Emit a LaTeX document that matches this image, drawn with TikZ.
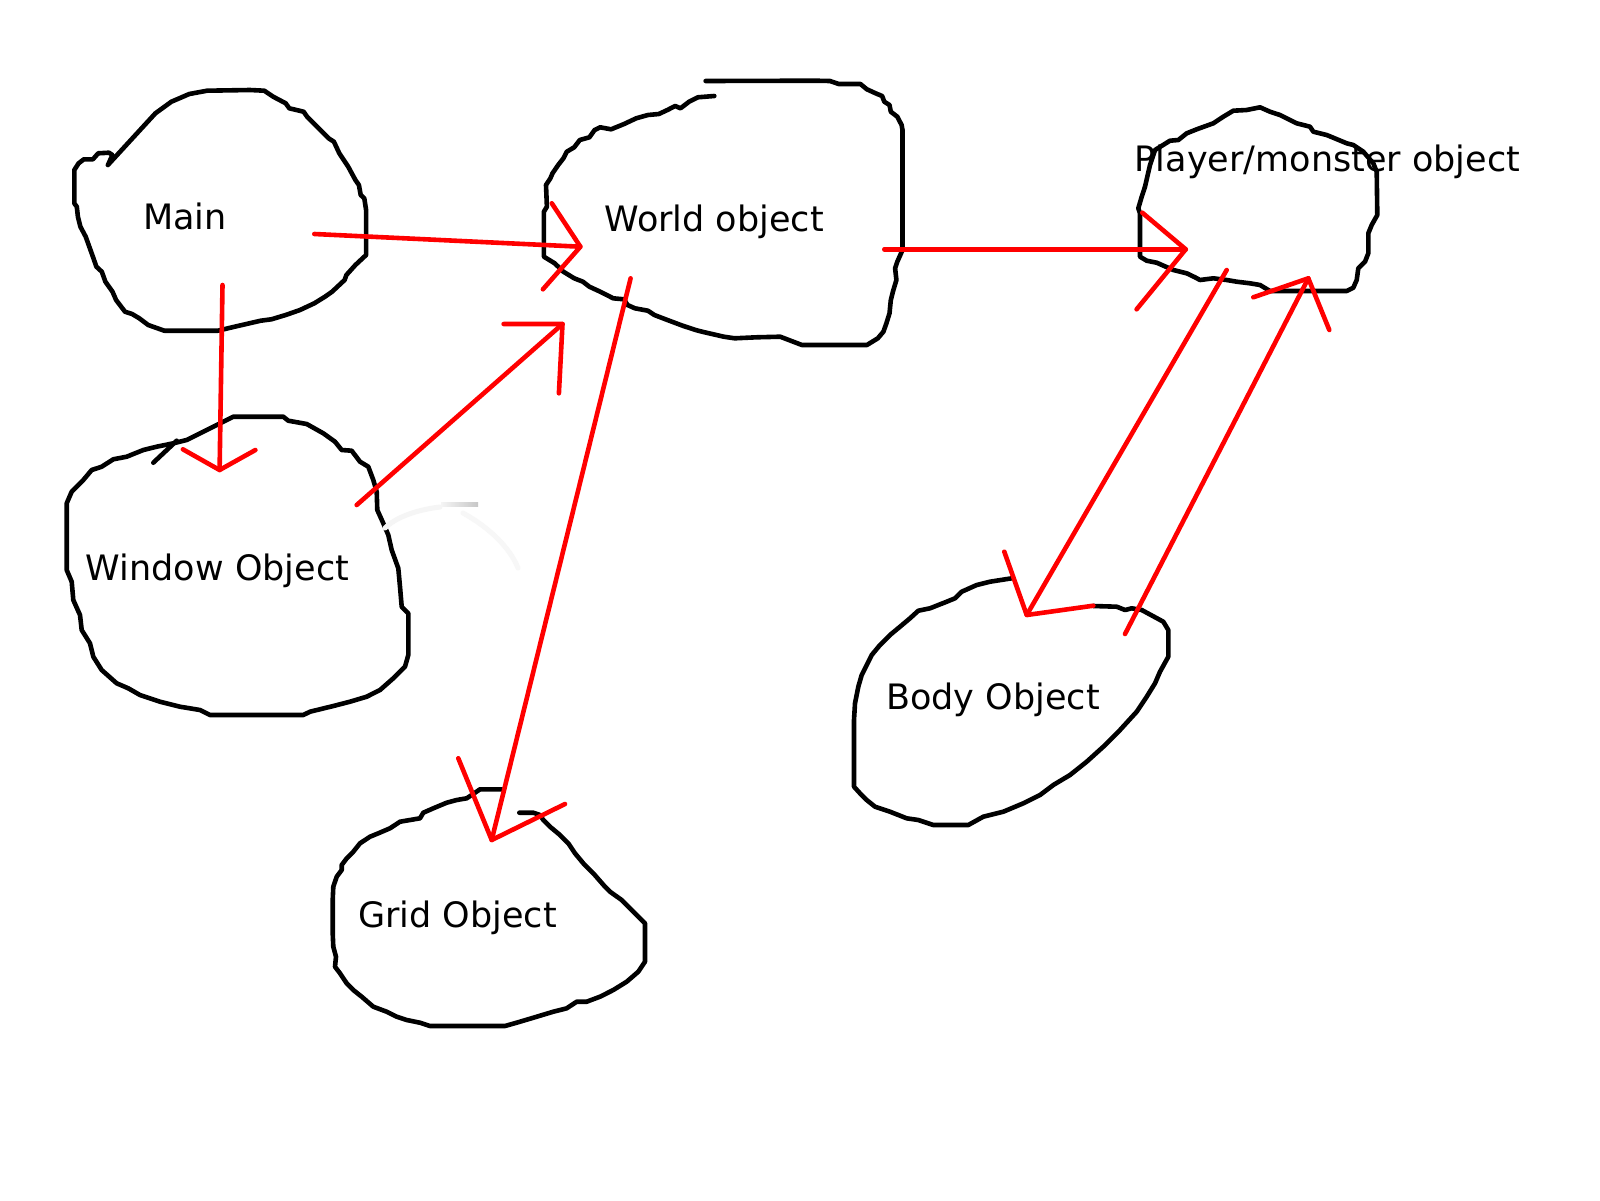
\documentclass[tikz,border=0pt]{standalone}
\usepackage{fontspec}
\setmainfont{DejaVu Sans}
\begin{document}
\begin{tikzpicture}[x=1pt,y=-1pt,
  blob/.style={draw=black,line width=4.6pt,line join=round,line cap=round},
  conn/.style={draw=red,line width=4.6pt,line join=round,line cap=round},
  lbl/.style={font=\fontsize{35}{40}\selectfont,inner sep=0pt,anchor=base,text=black}]
\useasboundingbox (0,0) rectangle (1600,1200);
\fill[white] (0,0) rectangle (1600,1200);

% ---------- blobs ----------
% Main
\draw[blob] (107.9,165) -- (155.4,113.3) -- (171.4,101.7) -- (189.3,94) -- (207.1,90.7) -- (250,90) -- (264.3,90.7) -- (273.2,96.7) -- (285.7,103.3) -- (289.3,108.3) -- (303.6,111.7) -- (307.1,116.7) -- (328.6,138.3) -- (333.9,141.7) -- (339.3,153.3) -- (348.2,166.7) -- (355.4,180) -- (358.9,185) -- (360.7,195) -- (364.3,198.3) -- (366.1,210) -- (366.1,255) -- (355.4,265) -- (346.4,275) -- (344.6,280) -- (332.1,291.7) -- (325,296.7) -- (314.3,303.3) -- (300,310) -- (285.7,315) -- (271.4,319.3) -- (260.7,320.7) -- (232.1,327.3) -- (217.9,330.7) -- (164.3,330.7) -- (148.2,325) -- (139.3,318.3) -- (132.1,314) -- (125,311.7) -- (116.1,300) -- (112.5,291.7) -- (105.4,281.7) -- (101.8,271.7) -- (96.4,266.7) -- (92.9,256.7) -- (85.7,236.7) -- (80.4,226.7) -- (77.9,216.7) -- (76.8,206.7) -- (74.3,203.3) -- (74.3,170) -- (78.6,163.3) -- (83.9,159.3) -- (92.9,159.3) -- (98.2,153.3) -- (108.9,152.7) -- (112.5,155) -- (107.9,165);

% World
\draw[blob] (705.6,81) -- (814.9,80.7) -- (830,81) -- (838.7,84) -- (860.4,84) -- (866.9,89.3) -- (875.6,93.3) -- (882.1,96) -- (884.3,101.7) -- (889.5,105) -- (890.8,111.7) -- (897.3,116.7) -- (901.6,125) -- (902.5,130) -- (902.5,250) -- (897.3,261.7) -- (895.1,268.3) -- (896.4,280) -- (892.9,291.7) -- (890.8,300) -- (889.5,313.3) -- (886.4,323.3) -- (883.4,331.7) -- (877.8,338.3) -- (866.9,345) -- (836.6,345) -- (801.9,345) -- (780.2,336.7) -- (756.3,337.3) -- (734.7,338.3) -- (723.8,336.7) -- (702.1,331.7) -- (695.6,330) -- (682.6,325.7) -- (667.4,320) -- (654.4,315) -- (647.9,310.7) -- (634.9,308.3) -- (627.5,305) -- (624.1,299.3) -- (613.2,298.3) -- (600.2,291.7) -- (589.4,286.7) -- (582.9,281.7) -- (574.2,278.3) -- (563.4,271.7) -- (554.7,263.3) -- (543.9,256.7) -- (543.9,211.7) -- (546.9,206.7) -- (546,185) -- (550.4,178.3) -- (552.5,173.3) -- (558.2,165) -- (563.4,158.3) -- (566.8,151.7) -- (574.2,147.3) -- (579.8,140) -- (589.4,137.3) -- (594.6,130) -- (600.2,127.3) -- (611.1,129.3) -- (624.1,124) -- (636.2,118.3) -- (647.9,115) -- (658.8,114) -- (667.4,110) -- (675.2,106) -- (680.5,108.3) -- (689.1,101.7) -- (697.8,97.3) -- (714.3,96);

% Player/monster
\draw[blob] (1138.3,208.3) -- (1141.7,196.7) -- (1145,186.7) -- (1150,165) -- (1155,150) -- (1170,140.7) -- (1178.3,140) -- (1186.7,133.3) -- (1196.7,129.3) -- (1213.3,123.3) -- (1223.3,116.7) -- (1233.3,110.7) -- (1246.7,110) -- (1260,107.3) -- (1270,111.7) -- (1280,115) -- (1296.7,123.3) -- (1310,126.7) -- (1313.3,131.7) -- (1326.7,135) -- (1346.7,143.3) -- (1353.3,145) -- (1363.3,151.7) -- (1373.3,163.3) -- (1376.7,171.7) -- (1377.3,215) -- (1371.7,225) -- (1368.3,233.3) -- (1368.3,253.3) -- (1365,261.7) -- (1358.3,268.3) -- (1356.7,280) -- (1353.3,287.7) -- (1346.7,291) -- (1270,291) -- (1260,285) -- (1250,283.3) -- (1236.7,281.7) -- (1226.7,280) -- (1213.3,278.3) -- (1200,280) -- (1195,277.3) -- (1186.7,273.3) -- (1173.3,270) -- (1156.7,262.7) -- (1146.7,260.7) -- (1140,256.7) -- (1140,213.3) -- cycle;

% Window
\draw[blob] (66.7,503.3) -- (71.7,491.7) -- (83.3,480) -- (91.7,470) -- (101.7,466.7) -- (113.3,459.3) -- (126.7,456.7) -- (143.3,450) -- (156.7,446.7) -- (173.3,443.3) -- (186.7,440) -- (203.3,431.7) -- (216.7,425) -- (233.3,416.7) -- (283.3,416.7) -- (288.3,420.7) -- (306.7,424) -- (323.3,433.3) -- (335,441.7) -- (341.7,450) -- (351.7,450.7) -- (360,461.7) -- (368.3,466.7) -- (373.3,480) -- (376.7,491.7) -- (377.3,510) -- (383.3,523.3) -- (388.3,535) -- (391.7,550) -- (398.3,568.3) -- (400,586.7) -- (401.7,606.7) -- (408.3,613.3) -- (408.3,655) -- (405,666.7) -- (393.3,678.3) -- (380,690) -- (366.7,696.7) -- (350,701.7) -- (333.3,706) -- (310,711.7) -- (303.3,715) -- (210,715) -- (200,710) -- (180,706.7) -- (160,701.7) -- (140,695) -- (128.3,688.3) -- (116.7,683.3) -- (101.7,670) -- (93.3,656.7) -- (90,643.3) -- (81.7,630) -- (80,615) -- (73.3,600) -- (71.7,581.7) -- (66.7,570) -- cycle;
\draw[blob] (153.3,462.7) -- (176.7,440.7);

% faint smudge right of the window blob
\shade[left color=black!4,right color=black!22] (441,502) rectangle (478,506.5);
\draw[draw=black!4,line width=5pt,line cap=round] (440,507) .. controls (415,510) and (395,518) .. (385,528);
\draw[draw=black!3,line width=5pt,line cap=round] (463,513) .. controls (490,528) and (510,548) .. (518,568);

% Grid
\draw[blob] (501.7,789.3) -- (480,789.3) -- (471.7,795) -- (466.7,798.3) -- (456.7,800) -- (446.7,802.7) -- (433.3,808.3) -- (423.3,812.7) -- (420,818.3) -- (410,820) -- (400,821.7) -- (390,828.3) -- (378.3,833.3) -- (370,836.7) -- (360,843.3) -- (353.3,851.7) -- (346.7,858.3) -- (341.7,865) -- (341.7,870) -- (336.7,876.7) -- (333.3,886.7) -- (332.7,900) -- (332.7,933.3) -- (333.3,946.7) -- (336,956.7) -- (335,966.7) -- (340,973.3) -- (346.7,983.3) -- (353.3,990) -- (361.7,996.7) -- (373.3,1006.7) -- (386.7,1011.7) -- (396.7,1016.7) -- (406.7,1020) -- (420,1022.7) -- (430,1026) -- (505,1026) -- (520,1021.7) -- (536.7,1016.7) -- (553.3,1011.7) -- (566.7,1008.3) -- (576.7,1001.7) -- (586.7,1001.7) -- (600,996.7) -- (613.3,990) -- (626.7,981.7) -- (638.3,971.7) -- (645,961.7) -- (645,923.3) -- (633.3,911.7) -- (621.7,900) -- (610,891.7) -- (605,886.7) -- (593.3,873.3) -- (583.3,863.3) -- (575,853.3) -- (568.3,843.3) -- (560,835) -- (550,826.7) -- (543.3,820) -- (540,815) -- (533.3,812.7) -- (519.3,812.7);

% Body
\draw[blob] (1011.7,578.3) -- (990,581.7) -- (976.7,585) -- (961.7,591.7) -- (955,598.3) -- (946.7,601.7) -- (930,608.3) -- (918.3,610.7) -- (910,618.3) -- (900,626.7) -- (890,635) -- (880,645) -- (871.7,655) -- (866.7,665) -- (861.7,675) -- (858.3,686.7) -- (855,703.3) -- (854,720) -- (854,786.7) -- (860,793.3) -- (866.7,800) -- (875,806.7) -- (890,811.7) -- (906.7,818.3) -- (918.3,820) -- (933.3,825) -- (968.3,825) -- (983.3,816.7) -- (1003.3,811.7) -- (1023.3,803.3) -- (1040,795) -- (1053.3,785) -- (1070,775) -- (1086.7,761.7) -- (1103.3,746.7) -- (1120,730) -- (1136.7,711.7) -- (1146.7,696.7) -- (1155,683.3) -- (1160,671.7) -- (1168.3,656.7) -- (1168.3,630) -- (1163.3,621.7) -- (1141.7,610) -- (1131.7,608.3) -- (1125,610) -- (1116.7,606.7) -- (1093.3,606);

% ---------- labels ----------
\node[lbl] (main) at (185,229.3) {Main};
\node[lbl] (world) at (714.1,231.7) {World object};
\node[lbl] (player) at (1327.5,171.7) {Player/monster object};
\node[lbl] (window) at (217.5,580) {Window Object};
\node[lbl] (grid) at (457.5,927.3) {Grid Object};
\node[lbl] (body) at (993,709.3) {Body Object};

% ---------- connectors ----------
% Main -> World
\coordinate (mwS) at (314.3,234);
\coordinate (mwT) at (580.4,246.7);
\coordinate (mwA) at (551.8,203.3);
\coordinate (mwB) at (542.9,289.3);
\draw[conn] (mwS) -- (mwT);
\draw[conn] (mwA) -- (mwT) -- (mwB);

% Main -> Window
\coordinate (mnS) at (222.5,285);
\coordinate (mnT) at (219.6,470);
\coordinate (mnA) at (182.9,449.3);
\coordinate (mnB) at (255.4,450);
\draw[conn] (mnS) -- (mnT);
\draw[conn] (mnA) -- (mnT) -- (mnB);

% Window -> World
\coordinate (wwS) at (356.7,505);
\coordinate (wwT) at (562.5,324);
\coordinate (wwA) at (503.6,324);
\coordinate (wwB) at (558.9,393.3);
\draw[conn] (wwS) -- (wwT);
\draw[conn] (wwA) -- (wwT) -- (wwB);

% World -> Grid
\coordinate (wgS) at (630.6,278.3);
\coordinate (wgT) at (491.7,840);
\coordinate (wgA) at (458.3,758.3);
\coordinate (wgB) at (565,804);
\draw[conn] (wgS) -- (wgT);
\draw[conn] (wgA) -- (wgT) -- (wgB);

% World -> Player
\coordinate (wpS) at (884.3,249.3);
\coordinate (wpT) at (1185.7,249.3);
\coordinate (wpA) at (1142.3,212.7);
\coordinate (wpB) at (1136.6,309.3);
\draw[conn] (wpS) -- (wpT);
\draw[conn] (wpA) -- (wpT) -- (wpB);

% Player -> Body
\coordinate (pbS) at (1226.7,270);
\coordinate (pbT) at (1026.7,615);
\coordinate (pbA) at (1004.3,551.7);
\coordinate (pbB) at (1093.3,605.7);
\draw[conn] (pbS) -- (pbT);
\draw[conn] (pbA) -- (pbT) -- (pbB);

% Body -> Player
\coordinate (bpS) at (1125,634);
\coordinate (bpT) at (1308.3,278.3);
\coordinate (bpA) at (1253.3,297.3);
\coordinate (bpB) at (1329.3,330);
\draw[conn] (bpS) -- (bpT);
\draw[conn] (bpA) -- (bpT) -- (bpB);
\end{tikzpicture}
\end{document}
